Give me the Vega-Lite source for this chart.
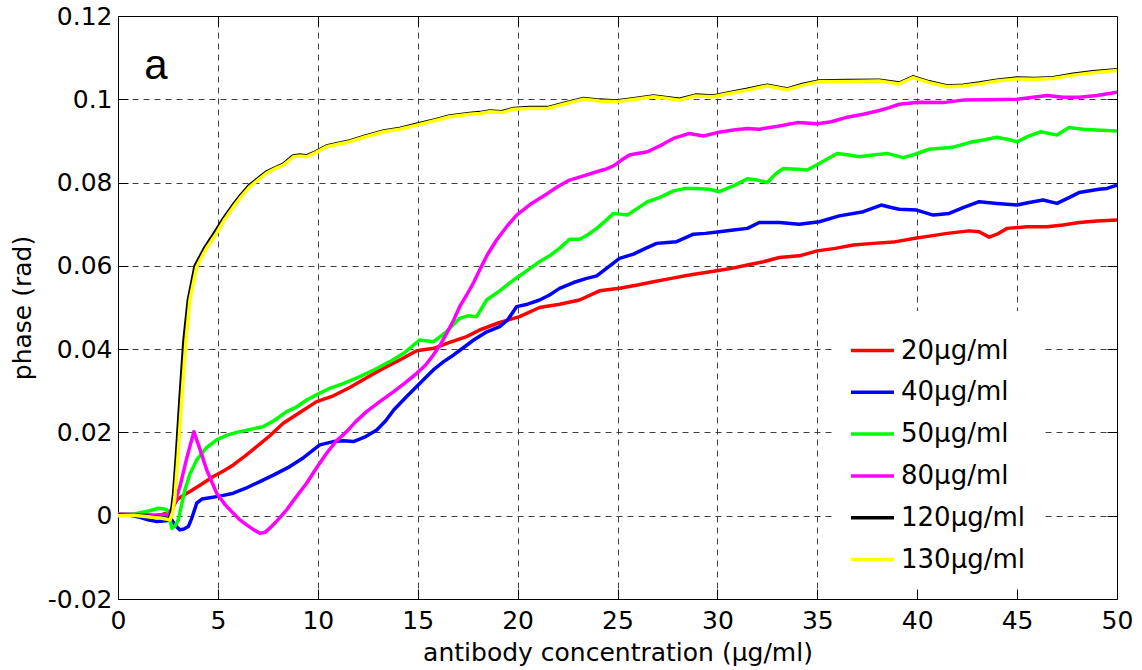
{
  "$schema": "https://vega.github.io/schema/vega-lite/v6.json",
  "width": 999,
  "height": 583,
  "autosize": {"type": "none"},
  "padding": {"left": 118, "top": 16, "right": 25, "bottom": 71},
  "background": "white",
  "config": {"view": {"stroke": null}, "font": "DejaVu Sans"},
  "datasets": {
    "curves": [
      {"s":"20µg/ml","x":0,"y":0.0002},{"s":"20µg/ml","x":0.8,"y":0.0001},{"s":"20µg/ml","x":1.6,"y":-0.0002},{"s":"20µg/ml","x":2.2,"y":0.0003},{"s":"20µg/ml","x":2.44,"y":0.0006},{"s":"20µg/ml","x":2.7,"y":0.0015},{"s":"20µg/ml","x":2.94,"y":0.0038},{"s":"20µg/ml","x":3.3,"y":0.005},{"s":"20µg/ml","x":3.6,"y":0.0058},{"s":"20µg/ml","x":4.2,"y":0.0076},{"s":"20µg/ml","x":4.77,"y":0.0094},{"s":"20µg/ml","x":5.3,"y":0.0108},{"s":"20µg/ml","x":5.77,"y":0.0122},{"s":"20µg/ml","x":6.4,"y":0.0145},{"s":"20µg/ml","x":6.94,"y":0.0166},{"s":"20µg/ml","x":7.6,"y":0.0192},{"s":"20µg/ml","x":8.27,"y":0.0222},{"s":"20µg/ml","x":9.1,"y":0.0248},{"s":"20µg/ml","x":9.94,"y":0.0274},{"s":"20µg/ml","x":10.78,"y":0.0288},{"s":"20µg/ml","x":11.6,"y":0.0308},{"s":"20µg/ml","x":12.4,"y":0.033},{"s":"20µg/ml","x":13.2,"y":0.0352},{"s":"20µg/ml","x":14.1,"y":0.0374},{"s":"20µg/ml","x":14.95,"y":0.0396},{"s":"20µg/ml","x":15.8,"y":0.0402},{"s":"20µg/ml","x":16.6,"y":0.0416},{"s":"20µg/ml","x":17.45,"y":0.043},{"s":"20µg/ml","x":18.1,"y":0.0446},{"s":"20µg/ml","x":19.1,"y":0.0464},{"s":"20µg/ml","x":20.1,"y":0.0478},{"s":"20µg/ml","x":21.1,"y":0.05},{"s":"20µg/ml","x":22.1,"y":0.0508},{"s":"20µg/ml","x":23.1,"y":0.0518},{"s":"20µg/ml","x":24.1,"y":0.054},{"s":"20µg/ml","x":25.1,"y":0.0546},{"s":"20µg/ml","x":26.0,"y":0.0554},{"s":"20µg/ml","x":26.8,"y":0.0562},{"s":"20µg/ml","x":27.7,"y":0.057},{"s":"20µg/ml","x":28.6,"y":0.0578},{"s":"20µg/ml","x":29.97,"y":0.0588},{"s":"20µg/ml","x":30.7,"y":0.0594},{"s":"20µg/ml","x":31.5,"y":0.0602},{"s":"20µg/ml","x":32.3,"y":0.061},{"s":"20µg/ml","x":33.1,"y":0.062},{"s":"20µg/ml","x":34.1,"y":0.0624},{"s":"20µg/ml","x":35.0,"y":0.0636},{"s":"20µg/ml","x":35.9,"y":0.0642},{"s":"20µg/ml","x":36.8,"y":0.065},{"s":"20µg/ml","x":37.8,"y":0.0654},{"s":"20µg/ml","x":38.8,"y":0.0657},{"s":"20µg/ml","x":39.97,"y":0.0667},{"s":"20µg/ml","x":40.7,"y":0.0672},{"s":"20µg/ml","x":41.5,"y":0.0678},{"s":"20µg/ml","x":42.6,"y":0.0684},{"s":"20µg/ml","x":43.1,"y":0.0682},{"s":"20µg/ml","x":43.6,"y":0.0669},{"s":"20µg/ml","x":44.0,"y":0.0676},{"s":"20µg/ml","x":44.5,"y":0.069},{"s":"20µg/ml","x":45.5,"y":0.0694},{"s":"20µg/ml","x":46.5,"y":0.0694},{"s":"20µg/ml","x":47.3,"y":0.0698},{"s":"20µg/ml","x":48.1,"y":0.0704},{"s":"20µg/ml","x":49.0,"y":0.0708},{"s":"20µg/ml","x":50.0,"y":0.071},

      {"s":"40µg/ml","x":0,"y":0.0002},{"s":"40µg/ml","x":0.6,"y":0.0001},{"s":"40µg/ml","x":1.1,"y":-0.0004},{"s":"40µg/ml","x":1.5,"y":-0.001},{"s":"40µg/ml","x":1.94,"y":-0.0014},{"s":"40µg/ml","x":2.4,"y":-0.0012},{"s":"40µg/ml","x":2.69,"y":-0.001},{"s":"40µg/ml","x":2.9,"y":-0.0025},{"s":"40µg/ml","x":3.1,"y":-0.0034},{"s":"40µg/ml","x":3.3,"y":-0.0032},{"s":"40µg/ml","x":3.52,"y":-0.0026},{"s":"40µg/ml","x":3.7,"y":-0.0005},{"s":"40µg/ml","x":3.94,"y":0.003},{"s":"40µg/ml","x":4.2,"y":0.004},{"s":"40µg/ml","x":4.44,"y":0.0042},{"s":"40µg/ml","x":5.1,"y":0.0047},{"s":"40µg/ml","x":5.77,"y":0.0054},{"s":"40µg/ml","x":6.4,"y":0.0066},{"s":"40µg/ml","x":7.1,"y":0.0082},{"s":"40µg/ml","x":7.8,"y":0.0098},{"s":"40µg/ml","x":8.6,"y":0.0118},{"s":"40µg/ml","x":9.3,"y":0.014},{"s":"40µg/ml","x":10.1,"y":0.017},{"s":"40µg/ml","x":10.78,"y":0.0178},{"s":"40µg/ml","x":11.3,"y":0.018},{"s":"40µg/ml","x":11.78,"y":0.0178},{"s":"40µg/ml","x":12.4,"y":0.019},{"s":"40µg/ml","x":12.95,"y":0.0206},{"s":"40µg/ml","x":13.4,"y":0.0228},{"s":"40µg/ml","x":13.8,"y":0.0254},{"s":"40µg/ml","x":14.4,"y":0.0284},{"s":"40µg/ml","x":14.95,"y":0.031},{"s":"40µg/ml","x":15.4,"y":0.0332},{"s":"40µg/ml","x":15.78,"y":0.035},{"s":"40µg/ml","x":16.3,"y":0.037},{"s":"40µg/ml","x":16.8,"y":0.0386},{"s":"40µg/ml","x":17.3,"y":0.0404},{"s":"40µg/ml","x":17.8,"y":0.0422},{"s":"40µg/ml","x":18.4,"y":0.044},{"s":"40µg/ml","x":19.1,"y":0.0454},{"s":"40µg/ml","x":19.5,"y":0.047},{"s":"40µg/ml","x":19.95,"y":0.0502},{"s":"40µg/ml","x":20.5,"y":0.0508},{"s":"40µg/ml","x":21.1,"y":0.0518},{"s":"40µg/ml","x":21.6,"y":0.053},{"s":"40µg/ml","x":22.1,"y":0.0546},{"s":"40µg/ml","x":22.8,"y":0.056},{"s":"40µg/ml","x":23.46,"y":0.057},{"s":"40µg/ml","x":23.96,"y":0.0576},{"s":"40µg/ml","x":24.5,"y":0.0596},{"s":"40µg/ml","x":25.1,"y":0.0618},{"s":"40µg/ml","x":25.8,"y":0.0628},{"s":"40µg/ml","x":26.4,"y":0.0642},{"s":"40µg/ml","x":26.96,"y":0.0654},{"s":"40µg/ml","x":27.5,"y":0.0656},{"s":"40µg/ml","x":27.96,"y":0.0658},{"s":"40µg/ml","x":28.8,"y":0.0676},{"s":"40µg/ml","x":29.4,"y":0.0678},{"s":"40µg/ml","x":30.1,"y":0.0682},{"s":"40µg/ml","x":30.8,"y":0.0686},{"s":"40µg/ml","x":31.5,"y":0.069},{"s":"40µg/ml","x":32.1,"y":0.0704},{"s":"40µg/ml","x":33.1,"y":0.0704},{"s":"40µg/ml","x":34.1,"y":0.07},{"s":"40µg/ml","x":35.1,"y":0.0706},{"s":"40µg/ml","x":36.1,"y":0.072},{"s":"40µg/ml","x":37.3,"y":0.073},{"s":"40µg/ml","x":38.2,"y":0.0746},{"s":"40µg/ml","x":38.7,"y":0.074},{"s":"40µg/ml","x":39.1,"y":0.0736},{"s":"40µg/ml","x":39.97,"y":0.0734},{"s":"40µg/ml","x":40.8,"y":0.0722},{"s":"40µg/ml","x":41.6,"y":0.0726},{"s":"40µg/ml","x":42.3,"y":0.074},{"s":"40µg/ml","x":43.1,"y":0.0754},{"s":"40µg/ml","x":44.0,"y":0.075},{"s":"40µg/ml","x":45.0,"y":0.0746},{"s":"40µg/ml","x":45.6,"y":0.0752},{"s":"40µg/ml","x":46.3,"y":0.0758},{"s":"40µg/ml","x":47.0,"y":0.075},{"s":"40µg/ml","x":47.6,"y":0.0764},{"s":"40µg/ml","x":48.1,"y":0.0776},{"s":"40µg/ml","x":49.1,"y":0.0784},{"s":"40µg/ml","x":49.5,"y":0.0786},{"s":"40µg/ml","x":50.0,"y":0.0794},

      {"s":"50µg/ml","x":0,"y":0.0004},{"s":"50µg/ml","x":0.8,"y":0.0004},{"s":"50µg/ml","x":1.6,"y":0.0012},{"s":"50µg/ml","x":2.02,"y":0.0018},{"s":"50µg/ml","x":2.3,"y":0.0016},{"s":"50µg/ml","x":2.44,"y":0.0014},{"s":"50µg/ml","x":2.55,"y":0.0},{"s":"50µg/ml","x":2.69,"y":-0.003},{"s":"50µg/ml","x":2.85,"y":-0.0025},{"s":"50µg/ml","x":3.02,"y":-0.001},{"s":"50µg/ml","x":3.2,"y":0.003},{"s":"50µg/ml","x":3.35,"y":0.0062},{"s":"50µg/ml","x":3.6,"y":0.01},{"s":"50µg/ml","x":3.94,"y":0.0134},{"s":"50µg/ml","x":4.4,"y":0.0162},{"s":"50µg/ml","x":4.94,"y":0.0182},{"s":"50µg/ml","x":5.5,"y":0.0194},{"s":"50µg/ml","x":6.1,"y":0.0202},{"s":"50µg/ml","x":6.7,"y":0.0208},{"s":"50µg/ml","x":7.27,"y":0.0214},{"s":"50µg/ml","x":7.8,"y":0.0228},{"s":"50µg/ml","x":8.44,"y":0.025},{"s":"50µg/ml","x":8.9,"y":0.026},{"s":"50µg/ml","x":9.44,"y":0.0278},{"s":"50µg/ml","x":10.0,"y":0.0292},{"s":"50µg/ml","x":10.6,"y":0.0306},{"s":"50µg/ml","x":11.3,"y":0.0318},{"s":"50µg/ml","x":12.1,"y":0.0334},{"s":"50µg/ml","x":12.8,"y":0.035},{"s":"50µg/ml","x":13.6,"y":0.037},{"s":"50µg/ml","x":14.3,"y":0.039},{"s":"50µg/ml","x":15.1,"y":0.0422},{"s":"50µg/ml","x":15.8,"y":0.0418},{"s":"50µg/ml","x":16.4,"y":0.044},{"s":"50µg/ml","x":17.1,"y":0.0474},{"s":"50µg/ml","x":17.5,"y":0.048},{"s":"50µg/ml","x":17.95,"y":0.0478},{"s":"50µg/ml","x":18.45,"y":0.0518},{"s":"50µg/ml","x":19.1,"y":0.054},{"s":"50µg/ml","x":19.8,"y":0.0566},{"s":"50µg/ml","x":20.4,"y":0.0586},{"s":"50µg/ml","x":21.1,"y":0.061},{"s":"50µg/ml","x":21.6,"y":0.0624},{"s":"50µg/ml","x":22.1,"y":0.0642},{"s":"50µg/ml","x":22.6,"y":0.0664},{"s":"50µg/ml","x":23.1,"y":0.0664},{"s":"50µg/ml","x":23.5,"y":0.0674},{"s":"50µg/ml","x":23.96,"y":0.069},{"s":"50µg/ml","x":24.4,"y":0.0708},{"s":"50µg/ml","x":24.8,"y":0.0726},{"s":"50µg/ml","x":25.5,"y":0.0722},{"s":"50µg/ml","x":26.0,"y":0.0738},{"s":"50µg/ml","x":26.5,"y":0.0754},{"s":"50µg/ml","x":27.1,"y":0.0764},{"s":"50µg/ml","x":27.8,"y":0.078},{"s":"50µg/ml","x":28.4,"y":0.0786},{"s":"50µg/ml","x":28.97,"y":0.0786},{"s":"50µg/ml","x":29.6,"y":0.0784},{"s":"50µg/ml","x":30.1,"y":0.0778},{"s":"50µg/ml","x":30.8,"y":0.0792},{"s":"50µg/ml","x":31.5,"y":0.0809},{"s":"50µg/ml","x":32.0,"y":0.0806},{"s":"50µg/ml","x":32.5,"y":0.08},{"s":"50µg/ml","x":32.9,"y":0.082},{"s":"50µg/ml","x":33.3,"y":0.0834},{"s":"50µg/ml","x":34.0,"y":0.0832},{"s":"50µg/ml","x":34.5,"y":0.083},{"s":"50µg/ml","x":35.1,"y":0.0846},{"s":"50µg/ml","x":36.0,"y":0.087},{"s":"50µg/ml","x":36.6,"y":0.0866},{"s":"50µg/ml","x":37.1,"y":0.0862},{"s":"50µg/ml","x":37.8,"y":0.0866},{"s":"50µg/ml","x":38.5,"y":0.087},{"s":"50µg/ml","x":39.3,"y":0.086},{"s":"50µg/ml","x":39.9,"y":0.0868},{"s":"50µg/ml","x":40.6,"y":0.088},{"s":"50µg/ml","x":41.8,"y":0.0885},{"s":"50µg/ml","x":42.6,"y":0.0896},{"s":"50µg/ml","x":43.3,"y":0.0902},{"s":"50µg/ml","x":43.98,"y":0.0909},{"s":"50µg/ml","x":44.5,"y":0.0904},{"s":"50µg/ml","x":45.0,"y":0.0898},{"s":"50µg/ml","x":45.6,"y":0.0912},{"s":"50µg/ml","x":46.2,"y":0.0922},{"s":"50µg/ml","x":47.0,"y":0.0914},{"s":"50µg/ml","x":47.6,"y":0.0932},{"s":"50µg/ml","x":48.3,"y":0.0928},{"s":"50µg/ml","x":48.98,"y":0.0926},{"s":"50µg/ml","x":50.0,"y":0.0924},

      {"s":"80µg/ml","x":0,"y":0.0004},{"s":"80µg/ml","x":0.9,"y":0.0003},{"s":"80µg/ml","x":1.77,"y":0.0002},{"s":"80µg/ml","x":2.52,"y":0.0002},{"s":"80µg/ml","x":2.8,"y":0.0025},{"s":"80µg/ml","x":3.1,"y":0.007},{"s":"80µg/ml","x":3.45,"y":0.014},{"s":"80µg/ml","x":3.8,"y":0.0202},{"s":"80µg/ml","x":4.1,"y":0.016},{"s":"80µg/ml","x":4.44,"y":0.011},{"s":"80µg/ml","x":4.94,"y":0.0054},{"s":"80µg/ml","x":5.37,"y":0.0026},{"s":"80µg/ml","x":5.77,"y":0.0006},{"s":"80µg/ml","x":6.1,"y":-0.001},{"s":"80µg/ml","x":6.44,"y":-0.0022},{"s":"80µg/ml","x":6.8,"y":-0.0034},{"s":"80µg/ml","x":7.1,"y":-0.0042},{"s":"80µg/ml","x":7.35,"y":-0.004},{"s":"80µg/ml","x":7.6,"y":-0.003},{"s":"80µg/ml","x":8.0,"y":-0.001},{"s":"80µg/ml","x":8.44,"y":0.0014},{"s":"80µg/ml","x":8.9,"y":0.0044},{"s":"80µg/ml","x":9.44,"y":0.0078},{"s":"80µg/ml","x":9.9,"y":0.0112},{"s":"80µg/ml","x":10.44,"y":0.015},{"s":"80µg/ml","x":10.9,"y":0.0178},{"s":"80µg/ml","x":11.44,"y":0.0202},{"s":"80µg/ml","x":11.9,"y":0.0226},{"s":"80µg/ml","x":12.44,"y":0.025},{"s":"80µg/ml","x":13.1,"y":0.0274},{"s":"80µg/ml","x":13.8,"y":0.0298},{"s":"80µg/ml","x":14.4,"y":0.032},{"s":"80µg/ml","x":14.95,"y":0.0342},{"s":"80µg/ml","x":15.4,"y":0.0362},{"s":"80µg/ml","x":15.78,"y":0.0386},{"s":"80µg/ml","x":16.1,"y":0.0408},{"s":"80µg/ml","x":16.45,"y":0.0438},{"s":"80µg/ml","x":16.8,"y":0.047},{"s":"80µg/ml","x":17.1,"y":0.0502},{"s":"80µg/ml","x":17.45,"y":0.053},{"s":"80µg/ml","x":17.8,"y":0.056},{"s":"80µg/ml","x":18.1,"y":0.059},{"s":"80µg/ml","x":18.5,"y":0.0628},{"s":"80µg/ml","x":18.95,"y":0.0662},{"s":"80µg/ml","x":19.45,"y":0.0694},{"s":"80µg/ml","x":19.95,"y":0.0722},{"s":"80µg/ml","x":20.7,"y":0.075},{"s":"80µg/ml","x":21.5,"y":0.0774},{"s":"80µg/ml","x":22.0,"y":0.079},{"s":"80µg/ml","x":22.6,"y":0.0806},{"s":"80µg/ml","x":23.3,"y":0.0816},{"s":"80µg/ml","x":23.96,"y":0.0826},{"s":"80µg/ml","x":24.4,"y":0.0832},{"s":"80µg/ml","x":24.8,"y":0.084},{"s":"80µg/ml","x":25.2,"y":0.0854},{"s":"80µg/ml","x":25.6,"y":0.0866},{"s":"80µg/ml","x":26.0,"y":0.087},{"s":"80µg/ml","x":26.5,"y":0.0874},{"s":"80µg/ml","x":27.2,"y":0.089},{"s":"80µg/ml","x":27.8,"y":0.0906},{"s":"80µg/ml","x":28.6,"y":0.0918},{"s":"80µg/ml","x":29.3,"y":0.0912},{"s":"80µg/ml","x":30.0,"y":0.092},{"s":"80µg/ml","x":30.8,"y":0.0926},{"s":"80µg/ml","x":31.5,"y":0.093},{"s":"80µg/ml","x":32.1,"y":0.0928},{"s":"80µg/ml","x":33.1,"y":0.0936},{"s":"80µg/ml","x":34.0,"y":0.0944},{"s":"80µg/ml","x":35.0,"y":0.0941},{"s":"80µg/ml","x":35.7,"y":0.0946},{"s":"80µg/ml","x":36.5,"y":0.0957},{"s":"80µg/ml","x":37.3,"y":0.0964},{"s":"80µg/ml","x":38.1,"y":0.0973},{"s":"80µg/ml","x":38.6,"y":0.098},{"s":"80µg/ml","x":39.1,"y":0.0988},{"s":"80µg/ml","x":40.1,"y":0.0993},{"s":"80µg/ml","x":41.3,"y":0.0992},{"s":"80µg/ml","x":42.3,"y":0.0998},{"s":"80µg/ml","x":43.5,"y":0.0999},{"s":"80µg/ml","x":45.0,"y":0.1},{"s":"80µg/ml","x":45.8,"y":0.1005},{"s":"80µg/ml","x":46.5,"y":0.1009},{"s":"80µg/ml","x":47.3,"y":0.1005},{"s":"80µg/ml","x":48.1,"y":0.1005},{"s":"80µg/ml","x":49.0,"y":0.1009},{"s":"80µg/ml","x":50.0,"y":0.1017},

      {"s":"120µg/ml","x":0,"y":0.0001},{"s":"120µg/ml","x":0.8,"y":0.0002},{"s":"120µg/ml","x":1.6,"y":-0.0002},{"s":"120µg/ml","x":2.2,"y":-0.0005},{"s":"120µg/ml","x":2.55,"y":-0.0008},{"s":"120µg/ml","x":2.68,"y":0.001},{"s":"120µg/ml","x":2.78,"y":0.005},{"s":"120µg/ml","x":2.92,"y":0.014},{"s":"120µg/ml","x":3.1,"y":0.0278},{"s":"120µg/ml","x":3.3,"y":0.042},{"s":"120µg/ml","x":3.52,"y":0.0518},{"s":"120µg/ml","x":3.86,"y":0.06},{"s":"120µg/ml","x":4.34,"y":0.0643},{"s":"120µg/ml","x":4.87,"y":0.0682},{"s":"120µg/ml","x":5.3,"y":0.0715},{"s":"120µg/ml","x":5.73,"y":0.0744},{"s":"120µg/ml","x":6.15,"y":0.077},{"s":"120µg/ml","x":6.55,"y":0.0792},{"s":"120µg/ml","x":6.97,"y":0.0808},{"s":"120µg/ml","x":7.42,"y":0.0825},{"s":"120µg/ml","x":7.9,"y":0.0836},{"s":"120µg/ml","x":8.26,"y":0.0844},{"s":"120µg/ml","x":8.77,"y":0.0864},{"s":"120µg/ml","x":9.1,"y":0.0866},{"s":"120µg/ml","x":9.44,"y":0.0864},{"s":"120µg/ml","x":9.9,"y":0.0874},{"s":"120µg/ml","x":10.44,"y":0.0888},{"s":"120µg/ml","x":11.0,"y":0.0894},{"s":"120µg/ml","x":11.6,"y":0.09},{"s":"120µg/ml","x":12.4,"y":0.0912},{"s":"120µg/ml","x":13.3,"y":0.0924},{"s":"120µg/ml","x":14.1,"y":0.093},{"s":"120µg/ml","x":14.95,"y":0.094},{"s":"120µg/ml","x":15.8,"y":0.095},{"s":"120µg/ml","x":16.6,"y":0.096},{"s":"120µg/ml","x":17.6,"y":0.0966},{"s":"120µg/ml","x":18.1,"y":0.0968},{"s":"120µg/ml","x":18.6,"y":0.0972},{"s":"120µg/ml","x":19.2,"y":0.097},{"s":"120µg/ml","x":19.8,"y":0.0978},{"s":"120µg/ml","x":20.6,"y":0.098},{"s":"120µg/ml","x":21.5,"y":0.098},{"s":"120µg/ml","x":22.3,"y":0.099},{"s":"120µg/ml","x":23.3,"y":0.1002},{"s":"120µg/ml","x":24.1,"y":0.0998},{"s":"120µg/ml","x":24.96,"y":0.0996},{"s":"120µg/ml","x":25.9,"y":0.1002},{"s":"120µg/ml","x":26.8,"y":0.1008},{"s":"120µg/ml","x":27.5,"y":0.1004},{"s":"120µg/ml","x":28.1,"y":0.1},{"s":"120µg/ml","x":28.9,"y":0.101},{"s":"120µg/ml","x":29.8,"y":0.1008},{"s":"120µg/ml","x":30.6,"y":0.1016},{"s":"120µg/ml","x":31.5,"y":0.1024},{"s":"120µg/ml","x":32.5,"y":0.1034},{"s":"120µg/ml","x":33.5,"y":0.1025},{"s":"120µg/ml","x":34.3,"y":0.1036},{"s":"120µg/ml","x":35.1,"y":0.1044},{"s":"120µg/ml","x":36.5,"y":0.1045},{"s":"120µg/ml","x":38.1,"y":0.1046},{"s":"120µg/ml","x":39.1,"y":0.1039},{"s":"120µg/ml","x":39.8,"y":0.1054},{"s":"120µg/ml","x":40.6,"y":0.1042},{"s":"120µg/ml","x":41.5,"y":0.1032},{"s":"120µg/ml","x":42.3,"y":0.1034},{"s":"120µg/ml","x":43.1,"y":0.1039},{"s":"120µg/ml","x":44.0,"y":0.1046},{"s":"120µg/ml","x":45.0,"y":0.1051},{"s":"120µg/ml","x":45.9,"y":0.105},{"s":"120µg/ml","x":46.8,"y":0.1052},{"s":"120µg/ml","x":47.8,"y":0.106},{"s":"120µg/ml","x":48.8,"y":0.1066},{"s":"120µg/ml","x":50.0,"y":0.1071},

      {"s":"130µg/ml","x":0,"y":0.0},{"s":"130µg/ml","x":0.8,"y":0.0001},{"s":"130µg/ml","x":1.6,"y":-0.0003},{"s":"130µg/ml","x":2.2,"y":-0.0006},{"s":"130µg/ml","x":2.6,"y":-0.001},{"s":"130µg/ml","x":2.75,"y":0.001},{"s":"130µg/ml","x":2.85,"y":0.0046},{"s":"130µg/ml","x":3.0,"y":0.014},{"s":"130µg/ml","x":3.19,"y":0.0278},{"s":"130µg/ml","x":3.4,"y":0.042},{"s":"130µg/ml","x":3.6,"y":0.0518},{"s":"130µg/ml","x":3.94,"y":0.0598},{"s":"130µg/ml","x":4.4,"y":0.064},{"s":"130µg/ml","x":4.94,"y":0.0679},{"s":"130µg/ml","x":5.35,"y":0.0712},{"s":"130µg/ml","x":5.77,"y":0.0741},{"s":"130µg/ml","x":6.2,"y":0.0768},{"s":"130µg/ml","x":6.6,"y":0.079},{"s":"130µg/ml","x":7.0,"y":0.0806},{"s":"130µg/ml","x":7.44,"y":0.0823},{"s":"130µg/ml","x":7.9,"y":0.0834},{"s":"130µg/ml","x":8.28,"y":0.0842},{"s":"130µg/ml","x":8.79,"y":0.0862},{"s":"130µg/ml","x":9.1,"y":0.0864},{"s":"130µg/ml","x":9.44,"y":0.0862},{"s":"130µg/ml","x":9.9,"y":0.0872},{"s":"130µg/ml","x":10.44,"y":0.0886},{"s":"130µg/ml","x":11.0,"y":0.0892},{"s":"130µg/ml","x":11.6,"y":0.0898},{"s":"130µg/ml","x":12.4,"y":0.091},{"s":"130µg/ml","x":13.3,"y":0.0922},{"s":"130µg/ml","x":14.1,"y":0.0928},{"s":"130µg/ml","x":14.95,"y":0.0938},{"s":"130µg/ml","x":15.8,"y":0.0948},{"s":"130µg/ml","x":16.6,"y":0.0958},{"s":"130µg/ml","x":17.6,"y":0.0964},{"s":"130µg/ml","x":18.1,"y":0.0966},{"s":"130µg/ml","x":18.6,"y":0.097},{"s":"130µg/ml","x":19.2,"y":0.0968},{"s":"130µg/ml","x":19.8,"y":0.0976},{"s":"130µg/ml","x":20.6,"y":0.0978},{"s":"130µg/ml","x":21.5,"y":0.0978},{"s":"130µg/ml","x":22.3,"y":0.0988},{"s":"130µg/ml","x":23.3,"y":0.1},{"s":"130µg/ml","x":24.1,"y":0.0996},{"s":"130µg/ml","x":24.96,"y":0.0994},{"s":"130µg/ml","x":25.9,"y":0.1},{"s":"130µg/ml","x":26.8,"y":0.1006},{"s":"130µg/ml","x":27.5,"y":0.1002},{"s":"130µg/ml","x":28.1,"y":0.0998},{"s":"130µg/ml","x":28.9,"y":0.1008},{"s":"130µg/ml","x":29.8,"y":0.1006},{"s":"130µg/ml","x":30.6,"y":0.1014},{"s":"130µg/ml","x":31.5,"y":0.1022},{"s":"130µg/ml","x":32.5,"y":0.1032},{"s":"130µg/ml","x":33.5,"y":0.1023},{"s":"130µg/ml","x":34.3,"y":0.1034},{"s":"130µg/ml","x":35.1,"y":0.1042},{"s":"130µg/ml","x":36.5,"y":0.1043},{"s":"130µg/ml","x":38.1,"y":0.1044},{"s":"130µg/ml","x":39.1,"y":0.1037},{"s":"130µg/ml","x":39.8,"y":0.1052},{"s":"130µg/ml","x":40.6,"y":0.104},{"s":"130µg/ml","x":41.5,"y":0.103},{"s":"130µg/ml","x":42.3,"y":0.1032},{"s":"130µg/ml","x":43.1,"y":0.1037},{"s":"130µg/ml","x":44.0,"y":0.1044},{"s":"130µg/ml","x":45.0,"y":0.1049},{"s":"130µg/ml","x":45.9,"y":0.1048},{"s":"130µg/ml","x":46.8,"y":0.105},{"s":"130µg/ml","x":47.8,"y":0.1058},{"s":"130µg/ml","x":48.8,"y":0.1064},{"s":"130µg/ml","x":50.0,"y":0.1069}
    ]
  },
  "layer": [
    {
      "data": {"name": "curves"},
      "mark": {"type": "line", "strokeWidth": 3.5, "strokeJoin": "round", "clip": true},
      "encoding": {
        "x": {
          "field": "x", "type": "quantitative",
          "scale": {"domain": [0, 50], "nice": false, "zero": false},
          "axis": {
            "orient": "bottom", "values": [0,5,10,15,20,25,30,35,40,45,50],
            "grid": false, "domain": true, "domainColor": "black", "domainWidth": 1,
            "ticks": true, "tickSize": -10, "tickColor": "black", "tickWidth": 1,
            "labelFont": "DejaVu Sans", "labelFontSize": 25, "labelColor": "black", "labelPadding": 19,
            "labelFlush": false, "labelOverlap": false,
            "title": "antibody concentration (µg/ml)", "titleFont": "DejaVu Sans", "titleFontSize": 25,
            "titleFontWeight": "normal", "titleColor": "black", "titlePadding": 7
          }
        },
        "y": {
          "field": "y", "type": "quantitative",
          "scale": {"domain": [-0.02, 0.12], "nice": false, "zero": false},
          "axis": {
            "orient": "left", "values": [-0.02,0,0.02,0.04,0.06,0.08,0.1,0.12],
            "labelExpr": "datum.value < 0 ? '-' + format(-datum.value, '~g') : format(datum.value, '~g')",
            "grid": false, "domain": true, "domainColor": "black", "domainWidth": 1,
            "ticks": true, "tickSize": -10, "tickColor": "black", "tickWidth": 1,
            "labelFont": "DejaVu Sans", "labelFontSize": 25, "labelColor": "black", "labelPadding": 16,
            "labelFlush": false, "labelOverlap": false,
            "title": "phase (rad)", "titleFont": "DejaVu Sans", "titleFontSize": 25,
            "titleFontWeight": "normal", "titleColor": "black", "titlePadding": 12
          }
        },
        "color": {
          "field": "s", "type": "nominal",
          "scale": {
            "domain": ["20µg/ml","40µg/ml","50µg/ml","80µg/ml","120µg/ml","130µg/ml"],
            "range": ["#ff0000","#0000ff","#00ff00","#ff00ff","#000000","#ffff00"]
          },
          "legend": {
            "orient": "none", "legendX": 715, "legendY": 295, "title": null,
            "fillColor": "white", "strokeColor": null, "padding": 16,
            "symbolType": "stroke", "symbolSize": 1849, "symbolStrokeWidth": 3.5,
            "labelFont": "DejaVu Sans", "labelFontSize": 26, "labelColor": "black", "labelOffset": 5,
            "rowPadding": 4.8, "labelLimit": 300
          }
        }
      }
    },
    {
      "data": {"values": [{"x": 1.9, "y": 0.1049, "t": "a"}]},
      "mark": {"type": "text", "font": "Liberation Sans", "fontSize": 42, "align": "center", "baseline": "alphabetic", "color": "black"},
      "encoding": {
        "x": {
          "field": "x", "type": "quantitative",
          "axis": {
            "orient": "top", "values": [5,10,15,20,25,30,35,40,45],
            "labels": false, "title": null, "domain": true, "domainColor": "black",
            "ticks": true, "tickSize": -10, "tickColor": "black",
            "grid": true, "gridDash": [6, 5], "gridColor": "#404040", "gridWidth": 1
          }
        },
        "y": {
          "field": "y", "type": "quantitative",
          "axis": {
            "orient": "right", "values": [0,0.02,0.04,0.06,0.08,0.1],
            "labels": false, "title": null, "domain": true, "domainColor": "black",
            "ticks": true, "tickSize": -10, "tickColor": "black",
            "grid": true, "gridDash": [6, 5], "gridColor": "#404040", "gridWidth": 1
          }
        },
        "text": {"field": "t"}
      }
    }
  ],
  "resolve": {"axis": {"x": "independent", "y": "independent"}}
}
